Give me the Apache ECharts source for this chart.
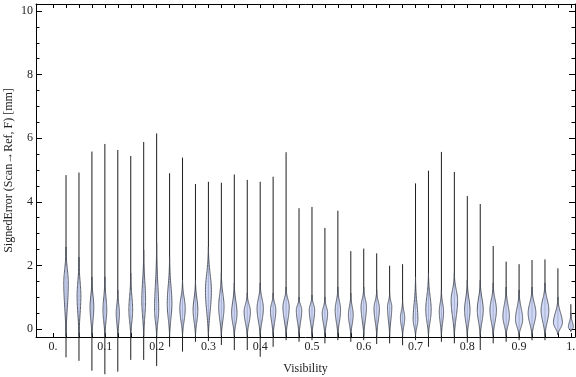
<!DOCTYPE html>
<html>
<head>
<meta charset="utf-8">
<script src="https://cdn.jsdelivr.net/npm/echarts@6/dist/echarts.min.js"></script>
<style>
  html, body { margin: 0; padding: 0; background: #fff; }
  #chart { width: 576px; height: 377px; }
</style>
</head>
<body>
<div id="chart"></div>
<script>
// visibility bins (x position of each violin)
const visibility = [0.025, 0.05, 0.075, 0.1, 0.125, 0.15, 0.175, 0.2, 0.225, 0.25,
  0.275, 0.3, 0.325, 0.35, 0.375, 0.4, 0.425, 0.45, 0.475, 0.5,
  0.525, 0.55, 0.575, 0.6, 0.625, 0.65, 0.675, 0.7, 0.725, 0.75,
  0.775, 0.8, 0.825, 0.85, 0.875, 0.9, 0.925, 0.95, 0.975, 1.0];
// signed error extremes [mm]
const errMax = [4.84, 4.92, 5.58, 5.82, 5.63, 5.44, 5.88, 6.15, 4.90, 5.39,
  4.56, 4.63, 4.60, 4.86, 4.69, 4.63, 4.79, 5.56, 3.80, 3.84,
  3.18, 3.72, 2.45, 2.53, 2.38, 1.99, 2.04, 4.58, 4.98, 5.57,
  4.94, 4.18, 3.93, 2.61, 2.12, 2.04, 2.17, 2.19, 1.91, 0.78];
const errMin = [-0.89, -1.00, -1.31, -1.42, -1.34, -0.97, -0.97, -1.16, -0.56, -0.71,
  -0.40, -0.38, -0.50, -0.66, -0.66, -0.87, -0.56, -0.35, -0.40, -0.35,
  -0.45, -0.35, -0.40, -0.35, -0.47, -0.45, -0.51, -0.35, -0.56, -0.40,
  -0.45, -0.43, -0.66, -0.45, -0.40, -0.35, -0.35, -0.35, -0.19, -0.08];
// most frequent error (widest point of the violin)
const errMode = [1.45, 1.04, 0.69, 0.60, 0.50, 0.60, 0.90, 0.60, 0.80, 0.65,
  0.60, 1.20, 0.70, 0.50, 0.55, 0.65, 0.60, 0.70, 0.60, 0.60,
  0.50, 0.60, 0.45, 0.70, 0.65, 0.70, 0.35, 0.30, 0.60, 0.55,
  0.90, 0.60, 0.60, 0.60, 0.40, 0.30, 0.50, 0.60, 0.20, 0.06];
// upper / lower end of the dense part of the distribution
const bodyTop = [2.58, 2.26, 1.64, 1.64, 1.23, 1.76, 2.48, 2.70, 2.26, 1.54,
  1.54, 2.58, 1.76, 1.45, 1.13, 1.45, 1.13, 1.32, 1.00, 1.07,
  1.00, 1.32, 1.13, 1.32, 1.23, 1.13, 0.91, 1.64, 1.76, 1.23,
  1.76, 1.54, 1.54, 1.45, 1.32, 1.23, 1.32, 1.45, 1.00, 0.50];
const bodyLow = [-0.22, -0.22, -0.22, -0.22, -0.22, -0.22, -0.22, -0.22, -0.2, -0.2,
  -0.2, -0.2, -0.2, -0.2, -0.2, -0.2, -0.2, -0.2, -0.2, -0.2,
  -0.2, -0.2, -0.2, -0.2, -0.2, -0.2, -0.2, -0.2, -0.2, -0.2,
  -0.2, -0.2, -0.2, -0.2, -0.2, -0.2, -0.2, -0.2, -0.17, -0.07];
// relative peak density (width of violin)
const density = [0.50, 0.42, 0.42, 0.42, 0.36, 0.42, 0.42, 0.46, 0.52, 0.60,
  0.53, 0.66, 0.60, 0.60, 0.70, 0.70, 0.60, 0.70, 0.60, 0.60,
  0.60, 0.60, 0.53, 0.60, 0.60, 0.48, 0.48, 0.53, 0.60, 0.48,
  0.72, 0.60, 0.66, 0.72, 0.72, 0.80, 0.86, 0.86, 1.00, 0.55];

const xTicks = [0, 0.025, 0.05, 0.075, 0.1, 0.125, 0.15, 0.175, 0.2, 0.225, 0.25,
  0.275, 0.3, 0.325, 0.35, 0.375, 0.4, 0.425, 0.45, 0.475, 0.5,
  0.525, 0.55, 0.575, 0.6, 0.625, 0.65, 0.675, 0.7, 0.725, 0.75,
  0.775, 0.8, 0.825, 0.85, 0.875, 0.9, 0.925, 0.95, 0.975, 1.0];
const xLabels = [0, 0.1, 0.2, 0.3, 0.4, 0.5, 0.6, 0.7, 0.8, 0.9, 1.0];
const yMajor = [0, 2, 4, 6, 8, 10];
const yMinor = [0.5, 1, 1.5, 2.5, 3, 3.5, 4.5, 5, 5.5, 6.5, 7, 7.5, 8.5, 9, 9.5];

const X_MIN = -0.033, X_MAX = 1.008, Y_MIN = -0.25, Y_MAX = 10.22;
const MAX_W = 9; // px, full width of density 1.0
const FONT = '"Liberation Serif", "DejaVu Serif", serif';

const data = visibility.map((v, i) => [v, errMin[i], errMax[i], errMode[i], bodyTop[i], bodyLow[i], density[i]]);

function shape(u, k) {
  return (Math.exp(-k * u * u) - Math.exp(-k)) / (1 - Math.exp(-k));
}

function renderItem(params, api) {
  const x = api.value(0), lo = api.value(1), hi = api.value(2);
  const mode = api.value(3), top = api.value(4);
  const low = Math.max(api.value(5), Y_MIN);
  const hw = api.value(6) * MAX_W / 2;
  const N = 30;
  const prof = [];
  for (let j = 0; j <= N; j++) {
    const y = low + (mode - low) * j / N;
    prof.push([y, hw * shape((mode - y) / (mode - low), 2.2)]);
  }
  for (let j = 1; j <= N; j++) {
    const y = mode + (top - mode) * j / N;
    prof.push([y, hw * shape((y - mode) / (top - mode), 3.5)]);
  }
  const right = prof.map(([y, w]) => { const p = api.coord([x, y]); return [p[0] + w, p[1]]; });
  const left = prof.slice().reverse().map(([y, w]) => { const p = api.coord([x, y]); return [p[0] - w, p[1]]; });
  const pLo = api.coord([x, lo]), pHi = api.coord([x, hi]);
  return {
    type: 'group',
    children: [
      { type: 'line', shape: { x1: pLo[0], y1: pLo[1], x2: pHi[0], y2: pHi[1] },
        style: { stroke: '#1e1e1e', lineWidth: 1 } },
      { type: 'polygon', shape: { points: right.concat(left), smooth: 0 },
        style: { fill: 'rgba(198,207,245,0.82)', stroke: '#4a4e58', lineWidth: 0.9 } }
    ]
  };
}

const axisLine = { show: true, onZero: false, lineStyle: { color: '#000', width: 1 } };
const noLine = { show: false, onZero: false };
const labelStyle = { color: '#222', fontFamily: FONT, fontSize: 12 };
const gridBox = { left: 36, right: 1, top: 4, bottom: 40, containLabel: false, outerBoundsMode: 'none' };

function yAx(gridIndex, position, ticks, len, extra) {
  return Object.assign({
    type: 'value', gridIndex: gridIndex, position: position, min: Y_MIN, max: Y_MAX,
    axisLine: gridIndex === 0 ? axisLine : noLine, splitLine: { show: false },
    axisTick: { show: true, inside: true, length: len, customValues: ticks, lineStyle: { color: '#000' } },
    axisLabel: { show: false }
  }, extra || {});
}

const chart = echarts.init(document.getElementById('chart'), null, { renderer: 'canvas' });
chart.setOption({
  animation: false,
  backgroundColor: '#fff',
  grid: [gridBox, Object.assign({}, gridBox)],
  xAxis: [
    {
      type: 'value', gridIndex: 0, position: 'bottom', min: X_MIN, max: X_MAX,
      axisLine: axisLine, splitLine: { show: false },
      axisTick: { show: true, inside: true, length: 4, customValues: xTicks, lineStyle: { color: '#000' } },
      axisLabel: { ...labelStyle, margin: 4, customValues: xLabels,
        formatter: v => v === 0 ? '0.' : (v === 1 ? '1.' : v.toFixed(1)) },
      name: 'Visibility', nameLocation: 'middle', nameGap: 26, nameMoveOverlap: false,
      nameTextStyle: { color: '#222', fontFamily: FONT, fontSize: 12 }
    },
    {
      type: 'value', gridIndex: 1, position: 'top', min: X_MIN, max: X_MAX,
      axisLine: axisLine, splitLine: { show: false },
      axisTick: { show: true, inside: true, length: 4, customValues: xTicks, lineStyle: { color: '#000' } },
      axisLabel: { show: false }
    }
  ],
  yAxis: [
    yAx(0, 'left', yMajor, 6, {
      axisLabel: { ...labelStyle, margin: 3, customValues: yMajor },
      name: 'SignedError (Scan\u2192Ref, F) [mm]', nameLocation: 'middle', nameGap: 21, nameRotate: 90,
      nameMoveOverlap: false,
      nameTextStyle: { color: '#222', fontFamily: FONT, fontSize: 12 }
    }),
    yAx(0, 'right', yMajor, 6),
    yAx(1, 'left', yMinor, 3.5),
    yAx(1, 'right', yMinor, 3.5)
  ],
  series: [{
    type: 'custom',
    xAxisIndex: 0, yAxisIndex: 0,
    clip: false,
    renderItem: renderItem,
    encode: { x: 0, y: [1, 2] },
    data: data
  }]
});
</script>
</body>
</html>
